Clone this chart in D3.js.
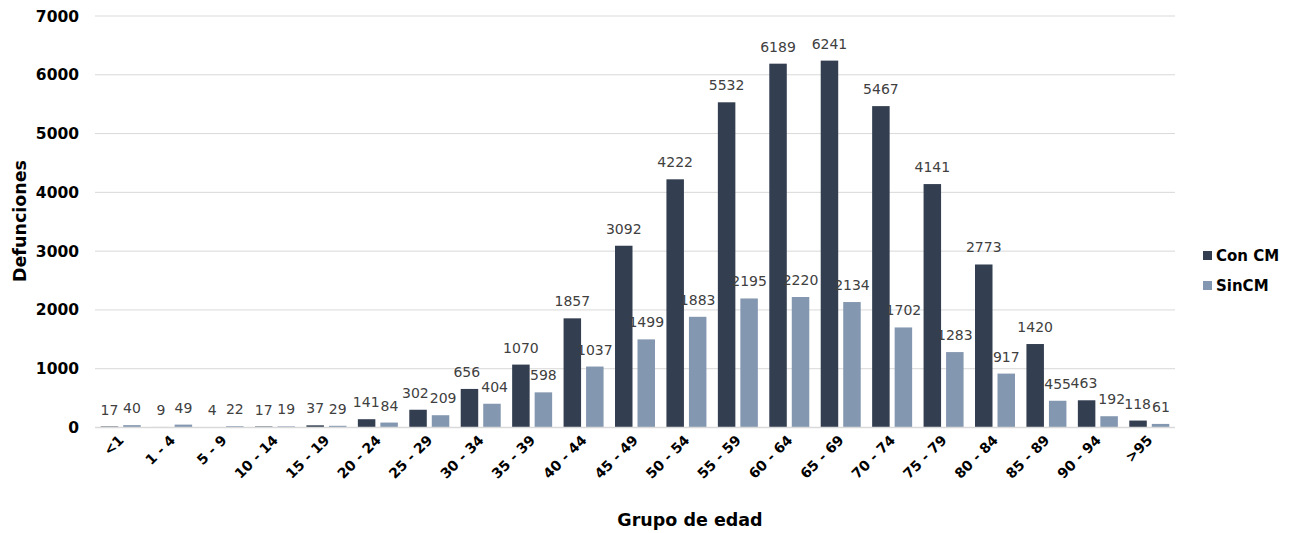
<!DOCTYPE html>
<html><head><meta charset="utf-8">
<script src="https://cdn.jsdelivr.net/npm/d3@7"></script>
<style>
html,body{margin:0;padding:0;background:#fff;}
svg{display:block;font-family:"DejaVu Sans",sans-serif;}
</style></head>
<body>
<svg id="chart" width="1292" height="533"></svg>
<script>
const categories = ["<1","1 - 4","5 - 9","10 - 14","15 - 19","20 - 24","25 - 29","30 - 34","35 - 39","40 - 44","45 - 49","50 - 54","55 - 59","60 - 64","65 - 69","70 - 74","75 - 79","80 - 84","85 - 89","90 - 94",">95"];
const conCM = [17,9,4,17,37,141,302,656,1070,1857,3092,4222,5532,6189,6241,5467,4141,2773,1420,463,118];
const sinCM = [40,49,22,19,29,84,209,404,598,1037,1499,1883,2195,2220,2134,1702,1283,917,455,192,61];
const yTicks = [0,1000,2000,3000,4000,5000,6000,7000];
const seriesNames = ["Con CM","SinCM"];
const colors = ["#333f50","#8497b0"];

(function(){
const svg = d3.select("#chart");
const mLeft = 95, mRight = 1175, mTop = 16, mBottom = 427.5;

const x = d3.scaleBand().domain(categories).range([mLeft,mRight]).padding(0);
const y = d3.scaleLinear().domain([0,7000]).range([mBottom,mTop]);
const step = x.bandwidth();
const bw = 17.5, gap = 5;

svg.append("g").selectAll("line").data(yTicks.filter(d=>d>0)).join("line")
  .attr("x1",mLeft).attr("x2",mRight)
  .attr("y1",d=>y(d)).attr("y2",d=>y(d))
  .attr("stroke","#d9d9d9").attr("stroke-width",1);

svg.append("g").selectAll("text").data(yTicks).join("text")
  .attr("x",79).attr("y",d=>y(d)+5.5)
  .attr("text-anchor","end")
  .attr("font-size",15.5).attr("font-weight","bold").attr("fill","#000")
  .text(d=>d);

const series = [conCM, sinCM];
const offsets = [-(gap/2+bw), gap/2];

series.forEach((vals,si)=>{
  svg.append("g").selectAll("rect").data(vals).join("rect")
    .attr("x",(d,i)=>x(categories[i])+step/2+offsets[si])
    .attr("width",bw)
    .attr("y",d=>y(d))
    .attr("height",d=>y(0)-y(d))
    .attr("fill",colors[si]);
});

svg.append("line").attr("x1",mLeft).attr("x2",mRight).attr("y1",y(0)).attr("y2",y(0))
  .attr("stroke","#d9d9d9").attr("stroke-width",1.5);

const labelSel = series.map((vals,si)=>
  svg.append("g").selectAll("text").data(vals).join("text")
    .attr("x",(d,i)=>x(categories[i])+step/2+offsets[si]+bw/2)
    .attr("y",d=>y(d)-12)
    .attr("text-anchor","middle")
    .attr("font-size",14).attr("fill","#404040")
    .text(d=>d)
);
// nudge apart overlapping label pairs within a group
const conNodes = labelSel[0].nodes(), sinNodes = labelSel[1].nodes();
conNodes.forEach((cn,i)=>{
  const sn = sinNodes[i];
  const a = cn.getBBox(), b = sn.getBBox();
  const vOver = Math.min(a.y+a.height,b.y+b.height) - Math.max(a.y,b.y);
  const hOver = (a.x+a.width) - b.x + 1;
  if (vOver > 0 && hOver > 0) {
    cn.setAttribute("x", +cn.getAttribute("x") - hOver/2);
    sn.setAttribute("x", +sn.getAttribute("x") + hOver/2);
  }
});

svg.append("g").selectAll("text").data(categories).join("text")
  .attr("transform",d=>`translate(${x(d)+step/2+4},${441}) rotate(-45)`)
  .attr("text-anchor","end")
  .attr("font-size",14).attr("font-weight","bold").attr("fill","#000")
  .text(d=>d);

svg.append("text").attr("x",690).attr("y",526)
  .attr("text-anchor","middle").attr("font-size",17.5).attr("font-weight","bold")
  .text("Grupo de edad");
svg.append("text").attr("transform",`translate(26,221) rotate(-90)`)
  .attr("text-anchor","middle").attr("font-size",17.5).attr("font-weight","bold")
  .text("Defunciones");

const lg = svg.append("g");
seriesNames.forEach((n,i)=>{
  const yy = 251 + i*30;
  lg.append("rect").attr("x",1203).attr("y",yy).attr("width",9).attr("height",9).attr("fill",colors[i]);
  lg.append("text").attr("x",1216).attr("y",yy+9.5).attr("font-size",15).attr("font-weight","bold").text(n);
});
})();
</script>
</body></html>
